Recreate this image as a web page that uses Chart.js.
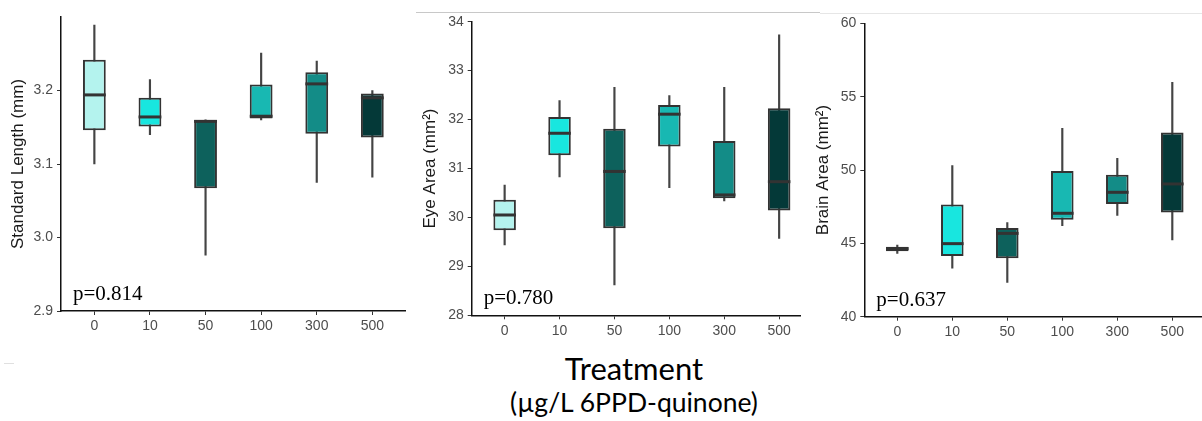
<!DOCTYPE html>
<html lang="en">
<head>
  <meta charset="UTF-8">
  <title>6PPD-quinone morphometrics</title>
  <script src="https://cdn.jsdelivr.net/npm/chart.js"></script>
  <style>
    body {
      margin: 0;
      width: 1202px;
      height: 421px;
      background: #fff;
      position: relative;
      overflow: hidden;
      font-family: "Liberation Sans", Arial, sans-serif;
    }
    canvas { position: absolute; top: 0; }
    .rule { position: absolute; height: 1px; }
    .treat {
      position: absolute;
      left: 434px;
      width: 400px;
      text-align: center;
      font-family: Lato, "Open Sans", sans-serif;
      color: #000;
      white-space: nowrap;
    }
  </style>
</head>
<body>
  <div class="rule" style="left:416px; top:12px; width:404px; background:#c8c8c8;"></div>
  <div class="rule" style="left:820px; top:13px; width:382px; background:#e6e6e6;"></div>
  <div class="rule" style="left:4px; top:363px; width:10px; background:#e0e0e0;"></div>

  <canvas id="lengthChart" width="410" height="345" style="left:0px;"></canvas>
  <canvas id="eyeChart" width="400" height="345" style="left:405px;"></canvas>
  <canvas id="brainChart" width="394" height="345" style="left:808px;"></canvas>

  <div class="treat" style="top:350px; font-size:31px; line-height:36px;">Treatment</div>
  <div class="treat" style="top:386px; font-size:26.5px; line-height:32px;">(µg/L 6PPD-quinone)</div>

  <script>
    // treatment groups
    const doses = ["0", "10", "50", "100", "300", "500"];
    const boxColors = ["#b4f3ee", "#18e6df", "#0d615c", "#18b8b2", "#138c87", "#043938"];

    // standard length (mm)
    const lenLow = [3.100, 3.140, 2.976, 3.160, 3.075, 3.082];
    const lenQ1 = [3.146, 3.151, 3.067, 3.162, 3.141, 3.136];
    const lenMedian = [3.194, 3.164, 3.158, 3.165, 3.209, 3.190];
    const lenQ3 = [3.242, 3.190, 3.160, 3.208, 3.225, 3.196];
    const lenHigh = [3.289, 3.215, 3.160, 3.251, 3.240, 3.200];

    // eye area (mm2)
    const eyeLow = [29.44, 30.83, 28.62, 30.61, 30.34, 29.57];
    const eyeQ1 = [29.74, 31.27, 29.78, 31.45, 30.39, 30.14];
    const eyeMedian = [30.05, 31.72, 30.94, 32.11, 30.46, 30.73];
    const eyeQ3 = [30.36, 32.05, 31.81, 32.30, 31.56, 32.23];
    const eyeHigh = [30.66, 32.39, 32.66, 32.49, 32.66, 33.73];

    // brain area (mm2)
    const brainLow = [44.32, 43.30, 42.34, 46.20, 46.91, 45.23];
    const brainQ1 = [44.46, 44.14, 43.98, 46.61, 47.68, 47.11];
    const brainMedian = [44.64, 44.98, 45.68, 47.05, 48.48, 49.05];
    const brainQ3 = [44.77, 47.64, 46.05, 49.93, 49.68, 52.55];
    const brainHigh = [44.89, 50.30, 46.41, 52.84, 50.80, 55.98];

    const pValues = ["p=0.814", "p=0.780", "p=0.637"];

    // median bars + p-value label, drawn on top of the boxes
    const boxExtras = {
      id: "boxExtras",
      afterDatasetsDraw(chart) {
        const ctx = chart.ctx;
        const opts = chart.options.plugins.boxExtras;
        const meta = chart.getDatasetMeta(0);
        const yScale = chart.scales.y;
        ctx.save();
        ctx.strokeStyle = "#333";
        ctx.lineWidth = 3;
        meta.data.forEach((bar, i) => {
          const y = yScale.getPixelForValue(opts.median[i]);
          ctx.beginPath();
          ctx.moveTo(bar.x - bar.width / 2, y);
          ctx.lineTo(bar.x + bar.width / 2, y);
          ctx.stroke();
        });
        ctx.fillStyle = "#000";
        ctx.font = "21px 'Liberation Serif', serif";
        ctx.textBaseline = "alphabetic";
        ctx.fillText(opts.label, chart.chartArea.left + 12, chart.chartArea.bottom - 11);
        ctx.restore();
      }
    };

    function makePanel(id, p) {
      const ctx = document.getElementById(id).getContext("2d");
      const boxes = doses.map((d, i) => ({ x: i + 1, y: [p.q1[i], p.q3[i]] }));
      const whiskers = doses.map((d, i) => ({ x: i + 1, y: [p.low[i], p.high[i]] }));

      return new Chart(ctx, {
        type: "bar",
        data: {
          datasets: [
            {
              data: boxes,
              backgroundColor: boxColors,
              borderColor: "#333",
              borderWidth: 2,
              borderSkipped: false,
              grouped: false,
              barPercentage: 0.41,
              categoryPercentage: 1,
              order: 0
            },
            {
              data: whiskers,
              backgroundColor: "#444",
              borderWidth: 0,
              grouped: false,
              barThickness: 1.5,
              order: 1
            }
          ]
        },
        options: {
          responsive: false,
          animation: false,
          layout: { padding: p.padding },
          plugins: {
            legend: { display: false },
            tooltip: { enabled: false },
            boxExtras: { median: p.median, label: p.label }
          },
          scales: {
            x: {
              type: "linear",
              min: 0.4,
              max: p.xMax,
              offset: false,
              afterBuildTicks: (scale) => {
                scale.ticks = doses.map((d, i) => ({ value: i + 1 }));
              },
              afterFit: (scale) => { scale.height = p.xHeight; },
              ticks: {
                callback: (v) => doses[v - 1],
                color: "#4d4d4d",
                font: { family: "'Liberation Sans', Arial", size: 14 },
                padding: 3,
                maxRotation: 0,
                autoSkip: false
              },
              grid: { offset: false, drawOnChartArea: false, tickLength: 4, tickColor: "#333", tickWidth: 1 },
              border: { color: "#111", width: 1.5 }
            },
            y: {
              min: p.yMin,
              max: p.yMax,
              afterBuildTicks: (scale) => {
                scale.ticks = scale.ticks.filter((t) => t.value <= p.yTop + 1e-9);
              },
              afterFit: (scale) => { scale.width = p.yWidth; },
              ticks: {
                stepSize: p.step,
                callback: p.fmt,
                color: "#4d4d4d",
                font: { family: "'Liberation Sans', Arial", size: 14 },
                padding: 4
              },
              grid: { drawOnChartArea: false, tickLength: 4, tickColor: "#333", tickWidth: 1 },
              border: { color: "#111", width: 1.5 },
              title: {
                display: true,
                text: p.title,
                color: "#1a1a1a",
                font: { family: "'Liberation Sans', Arial", size: 17 },
                padding: { top: p.titlePad, bottom: 0 }
              }
            }
          }
        },
        plugins: [boxExtras]
      });
    }

    makePanel("lengthChart", {
      low: lenLow, q1: lenQ1, median: lenMedian, q3: lenQ3, high: lenHigh,
      yMin: 2.9, yMax: 3.3, yTop: 3.2, step: 0.1, fmt: (v) => v.toFixed(1),
      title: "Standard Length (mm)", label: pValues[0],
      xMax: 6.6, yWidth: 61, xHeight: 34, titlePad: 8.5,
      padding: { top: 17, right: 4.3, left: 0, bottom: 0 }
    });

    makePanel("eyeChart", {
      low: eyeLow, q1: eyeQ1, median: eyeMedian, q3: eyeQ3, high: eyeHigh,
      yMin: 28, yMax: 34, yTop: 34, step: 1, fmt: (v) => String(v),
      title: "Eye Area (mm²)", label: pValues[1],
      xMax: 6.38, yWidth: 66.7, xHeight: 29.7, titlePad: 14.8,
      padding: { top: 21.7, right: 5, left: 0, bottom: 0 }
    });

    makePanel("brainChart", {
      low: brainLow, q1: brainQ1, median: brainMedian, q3: brainQ3, high: brainHigh,
      yMin: 40, yMax: 60, yTop: 60, step: 5, fmt: (v) => String(v),
      title: "Brain Area (mm²)", label: pValues[2],
      xMax: 6.54, yWidth: 56.3, xHeight: 28.3, titlePad: 4.8,
      padding: { top: 23.3, right: 0, left: 0, bottom: 0 }
    });
  </script>
</body>
</html>
